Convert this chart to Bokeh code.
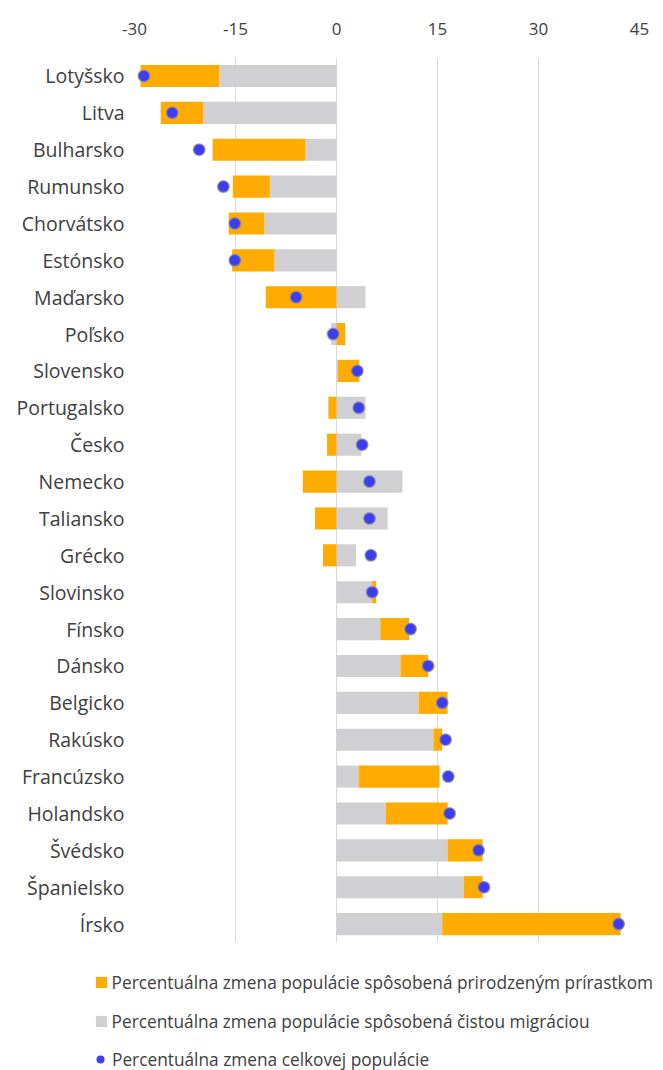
from bokeh.plotting import figure
from bokeh.models import ColumnDataSource, Range1d, Legend, LegendItem, PrintfTickFormatter
from bokeh.layouts import column
from bokeh.embed import file_html
from bokeh.resources import INLINE

countries = ["Lotyšsko", "Litva", "Bulharsko", "Rumunsko", "Chorvátsko", "Estónsko",
             "Maďarsko", "Poľsko", "Slovensko", "Portugalsko", "Česko", "Nemecko",
             "Taliansko", "Grécko", "Slovinsko", "Fínsko", "Dánsko", "Belgicko",
             "Rakúsko", "Francúzsko", "Holandsko", "Švédsko", "Španielsko", "Írsko"]
migration = [-17.4, -19.8, -4.6, -9.9, -10.7, -9.2, 4.3, -0.8, 0.2, 4.3, 3.7, 9.8,
             7.6, 2.9, 5.3, 6.5, 9.5, 12.2, 14.4, 3.3, 7.3, 16.5, 18.9, 15.7]
natural = [-11.7, -6.3, -13.8, -5.5, -5.3, -6.3, -10.5, 1.3, 3.2, -1.2, -1.4, -5.0,
           -3.2, -2.0, 0.6, 4.3, 4.1, 4.3, 1.3, 12.0, 9.2, 5.2, 2.8, 26.5]
total = [-28.6, -24.4, -20.4, -16.8, -15.1, -15.1, -6.0, -0.5, 3.1, 3.3, 3.8, 4.9,
         4.9, 5.1, 5.3, 11.0, 13.6, 15.7, 16.2, 16.6, 16.8, 21.1, 21.9, 41.9]
ticks = [-30, -15, 0, 15, 30, 45]
labels = ["Percentuálna zmena populácie spôsobená prirodzeným prírastkom",
          "Percentuálna zmena populácie spôsobená čistou migráciou",
          "Percentuálna zmena celkovej populácie"]

ORANGE = "#FFAB00"
GREY = "#D0D0D3"
BLUE = "#3C3CF2"
FONT = "Open Sans"
TXT = "#404040"

# Excel-style stacking: positives and negatives stacked separately, migration first
mig_left = [min(0, m) for m in migration]
mig_right = [max(0, m) for m in migration]
nat_left, nat_right = [], []
for m, n in zip(migration, natural):
    if n >= 0:
        b = max(m, 0)
        nat_left.append(b); nat_right.append(b + n)
    else:
        b = min(m, 0)
        nat_left.append(b + n); nat_right.append(b)

src = ColumnDataSource(dict(c=countries, ml=mig_left, mr=mig_right,
                            nl=nat_left, nr=nat_right, t=total))

p = figure(width=663, height=942, y_range=list(reversed(countries)),
           x_range=Range1d(-30, 45), x_axis_location="above",
           output_backend="svg", toolbar_location=None,
           min_border_left=134, min_border_right=24, min_border_top=57,
           min_border_bottom=0)
p.frame_align = False
p.outline_line_color = None
p.ygrid.grid_line_color = None
p.xgrid.grid_line_color = "#D9D9D9"
p.xgrid.grid_line_width = 1
p.xaxis.ticker = ticks
p.xaxis.formatter = PrintfTickFormatter(format="%d")
p.xaxis.axis_line_color = None
p.xaxis.major_tick_line_color = None
p.xaxis.major_tick_out = 0
p.xaxis.major_tick_in = 0
p.xaxis.minor_tick_line_color = None
p.xaxis.major_label_standoff = 23
p.xaxis.major_label_text_font = FONT
p.xaxis.major_label_text_font_size = "17px"
p.xaxis.major_label_text_color = TXT
p.yaxis.axis_line_color = None
p.yaxis.major_tick_line_color = None
p.yaxis.major_tick_out = 0
p.yaxis.major_tick_in = 0
p.yaxis.major_label_standoff = 10
p.yaxis.major_label_text_font = FONT
p.yaxis.major_label_text_font_size = "19.5px"
p.yaxis.major_label_text_color = TXT

p.hbar(y="c", left="ml", right="mr", height=0.6, source=src,
       fill_color=GREY, line_color=None)
p.hbar(y="c", left="nl", right="nr", height=0.6, source=src,
       fill_color=ORANGE, line_color=None)
p.scatter(x="t", y="c", source=src, size=11.5, fill_color=BLUE,
          line_color="#8888A0", line_alpha=0.7, line_width=1.5)

# legend panel below the chart (its dummy marks lie outside the visible range)
lg = figure(width=663, height=128, x_range=Range1d(0, 1), y_range=Range1d(0, 1),
            output_backend="svg", toolbar_location=None,
            x_axis_location=None, y_axis_location=None, min_border=0)
lg.frame_align = False
lg.outline_line_color = None
lg.xgrid.grid_line_color = None
lg.ygrid.grid_line_color = None
dummy = ColumnDataSource(dict(c=[5], l=[5], r=[6], x=[5]))
e_nat = lg.hbar(y="c", left="l", right="r", height=0.6, source=dummy,
                fill_color=ORANGE, line_color=None)
e_mig = lg.hbar(y="c", left="l", right="r", height=0.6, source=dummy,
                fill_color=GREY, line_color=None)
e_tot = lg.scatter(x="x", y="c", source=dummy, size=11, fill_color=BLUE,
                   line_color=None)

common = dict(orientation="vertical", label_height=24, spacing=15, padding=0,
              margin=0, border_line_color=None, background_fill_alpha=0,
              label_text_font=FONT, label_text_font_size="17.3px",
              label_text_color=TXT)
legend1 = Legend(items=[LegendItem(label=labels[0], renderers=[e_nat]),
                        LegendItem(label=labels[1], renderers=[e_mig])],
                 location=(93.6, 37), glyph_width=14, glyph_height=14,
                 label_standoff=4, **common)
legend2 = Legend(items=[LegendItem(label=labels[2], renderers=[e_tot])],
                 location=(90, -1), glyph_width=20, glyph_height=20,
                 label_standoff=2, **common)
lg.add_layout(legend1, "center")
lg.add_layout(legend2, "center")

layout = column(p, lg, spacing=0)
open("out.html", "w").write(file_html(layout, INLINE))
